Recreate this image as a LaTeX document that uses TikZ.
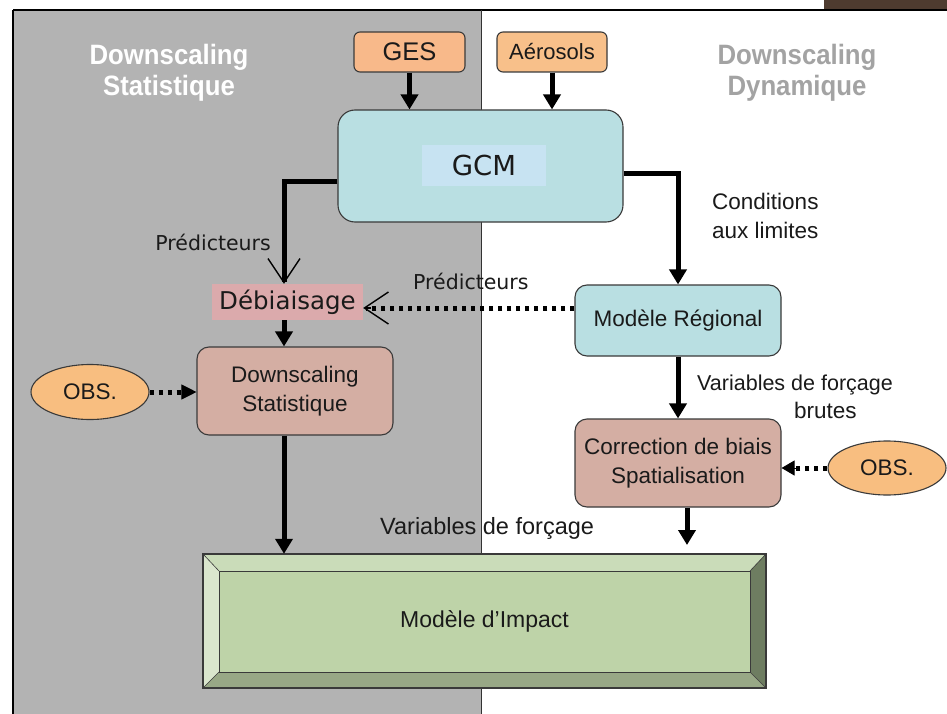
\documentclass[tikz,border=0pt]{standalone}
\usepackage{fontspec}
\setmainfont{Liberation Sans}
\newfontfamily\dvs{DejaVu Sans}
\newfontfamily\ttlfont[FakeStretch=0.92]{Liberation Sans}
\usetikzlibrary{arrows.meta,shapes.geometric}
\definecolor{panelgray}{HTML}{B3B3B3}
\definecolor{boxline}{HTML}{3A3A3A}
\definecolor{brownbar}{HTML}{4E3B2F}
\definecolor{gesfill}{HTML}{F8B98A}
\definecolor{aerfill}{HTML}{F8C08A}
\definecolor{obsfill}{HTML}{F8BE80}
\definecolor{cyanfill}{HTML}{B9DFE2}
\definecolor{gcminner}{HTML}{C7E3F2}
\definecolor{debfill}{HTML}{DBAAAC}
\definecolor{rosefill}{HTML}{D4AEA3}
\definecolor{ttlgray}{HTML}{A3A3A3}
\definecolor{bvtop}{HTML}{CADCB9}
\definecolor{bvleft}{HTML}{DAE6CD}
\definecolor{bvright}{HTML}{6E7D61}
\definecolor{bvbottom}{HTML}{98A886}
\definecolor{bvcenter}{HTML}{BED3A8}
\definecolor{txt}{HTML}{1A1A1A}
\begin{document}
\begin{tikzpicture}[x=1pt,y=-1pt,
  txtfont/.style={font=\fontsize{22.5}{28.5}\selectfont},
  box/.style={draw=boxline, line width=1.1pt, inner sep=0pt, align=center, text=txt, txtfont},
  flow/.style={line width=5pt, -{Triangle[width=17pt,length=15pt]}},
  openflow/.style={line width=5pt, -{Straight Barb[width=32pt,length=24pt,line width=1.4pt]}},
  dotflow/.style={line width=5pt, dash pattern=on 4.5pt off 4.5pt},
  lbl/.style={inner sep=0pt, text=txt, txtfont, align=left},
  predlbl/.style={inner sep=0pt, text=txt, font=\dvs\fontsize{20.5}{25}\selectfont},
  ttl/.style={inner sep=0pt, align=center, font=\ttlfont\bfseries\fontsize{28}{31}\selectfont}
]
\useasboundingbox (0,0) rectangle (947,714);
\fill[white] (0,0) rectangle (947,714);
% panels
\fill[panelgray] (13,10) rectangle (481,714);
\fill[brownbar] (824,0) rectangle (947,9);
\draw[line width=2.5pt, black] (13,10) -- (947,10);
\draw[line width=1.5pt, black] (13,10) -- (13,714);
\draw[line width=1pt, black!80] (481,10) -- (481,714);

% titles
\node[ttl, text=white] (ttlL) at (169,73) {Downscaling\\Statistique};
\node[ttl, text=ttlgray] (ttlR) at (797,73) {Downscaling\\Dynamique};

% top inputs
\node[box, fill=gesfill, rounded corners=6pt, minimum width=111pt, minimum height=40pt, font=\fontsize{25.5}{30}\selectfont] (ges) at (409.5,52) {GES};
\node[box, fill=aerfill, rounded corners=6pt, minimum width=110pt, minimum height=40pt, font=\fontsize{22}{26}\selectfont] (aer) at (552,52) {Aérosols};

% GCM
\node[box, fill=cyanfill, rounded corners=17pt, minimum width=285pt, minimum height=112pt] (gcm) at (480.5,166) {};
\node[inner sep=0pt, fill=gcminner, minimum width=124pt, minimum height=41pt, text=txt, font=\dvs\fontsize{27.5}{32}\selectfont] (gcmin) at (484,165.5) {GCM};

% Debiaisage
\node[inner sep=0pt, fill=debfill, minimum width=151pt, minimum height=36pt, text=txt, font=\dvs\fontsize{24.5}{28}\selectfont] (deb) at (287.5,302) {Débiaisage};

% Modele regional
\node[box, fill=cyanfill, rounded corners=12pt, minimum width=206pt, minimum height=71pt] (mreg) at (678,320.5) {Modèle Régional};

% Downscaling statistique
\node[box, fill=rosefill, rounded corners=12pt, minimum width=196pt, minimum height=88pt] (ds) at (295,391) {Downscaling\\Statistique};

% Correction
\node[box, fill=rosefill, rounded corners=12pt, minimum width=206pt, minimum height=88pt] (corr) at (678,463) {Correction de biais\\Spatialisation};

% OBS ellipses
\node[box, ellipse, fill=obsfill, minimum width=118pt, minimum height=55pt] (obsL) at (90,392) {OBS.};
\node[box, ellipse, fill=obsfill, minimum width=118pt, minimum height=54pt] (obsR) at (887,468) {OBS.};

% Impact bevelled box
\fill[bvcenter] (219,571) rectangle (750,672);
\fill[bvtop] (203,554) -- (766,554) -- (750,571) -- (219,571) -- cycle;
\fill[bvleft] (203,554) -- (219,571) -- (219,672) -- (203,688) -- cycle;
\fill[bvright] (766,554) -- (766,688) -- (750,672) -- (750,571) -- cycle;
\fill[bvbottom] (203,688) -- (766,688) -- (750,672) -- (219,672) -- cycle;
\draw[boxline, line width=0.8pt] (219,571) rectangle (750,672);
\draw[boxline, line width=0.6pt] (203,554) -- (219,571) (766,554) -- (750,571) (203,688) -- (219,672) (766,688) -- (750,672);
\draw[boxline, line width=1.1pt] (203,554) rectangle (766,688);
\node[inner sep=0pt, minimum width=563pt, minimum height=134pt, text=txt, font=\fontsize{23}{28}\selectfont] (impact) at (484.5,621) {Modèle d’Impact};

% helper coordinates
\coordinate (colL) at (284,0);
\coordinate (colR2) at (687,0);
\coordinate (yL) at (0,182);
\coordinate (yR) at (0,174);
\coordinate (yD) at (0,308);
\coordinate (impTopR) at (687,545);

% connectors
\draw[flow] (ges.south) -- (ges.south |- gcm.north);
\draw[flow] (aer.south) -- (aer.south |- gcm.north);
\draw[openflow] (gcm.west |- yL) -| (colL |- deb.north);
\draw[flow] (gcm.east |- yR) -| (mreg.north);
\draw[dotflow] (mreg.west |- yD) -- ([xshift=3pt]deb.east |- yD);
\draw[line width=1.4pt, -{Straight Barb[width=32pt,length=24pt,line width=1.4pt]}] ([xshift=8pt]deb.east |- yD) -- (deb.east |- yD);
\draw[flow] (colL |- deb.south) -- (colL |- ds.north);
\draw[dotflow] (obsL.east) -- ([xshift=-12pt]ds.west |- obsL.east);
\draw[line width=1pt, -{Triangle[width=15pt,length=15pt]}] ([xshift=-14pt]ds.west |- obsL.east) -- (ds.west |- obsL.east);
\draw[flow] (colL |- ds.south) -- (colL |- impact.north);
\draw[flow] (mreg.south) -- (mreg.south |- corr.north);
\draw[dotflow] (obsR.west) -- ([xshift=12pt]corr.east |- obsR.west);
\draw[line width=1pt, -{Triangle[width=15pt,length=13pt]}] ([xshift=14pt]corr.east |- obsR.west) -- (corr.east |- obsR.west);
\draw[flow] (colR2 |- corr.south) -- (impTopR);

% labels
\node[predlbl, anchor=base east] (lpredL) at (271,250) {Prédicteurs};
\node[predlbl, anchor=base west] (lpredM) at (413,289) {Prédicteurs};
\node[lbl, anchor=north west] (lcond) at (712,193) {Conditions\\aux limites};
\node[lbl, anchor=north west, font=\fontsize{21.5}{28}\selectfont] (lvarR) at (697,375) {Variables de forçage\\\hspace*{97pt}{\fontsize{22.5}{28}\selectfont brutes}};
\node[lbl, anchor=base west, font=\fontsize{23.5}{28}\selectfont] (lvarB) at (380,534) {Variables de forçage};
\end{tikzpicture}
\end{document}
